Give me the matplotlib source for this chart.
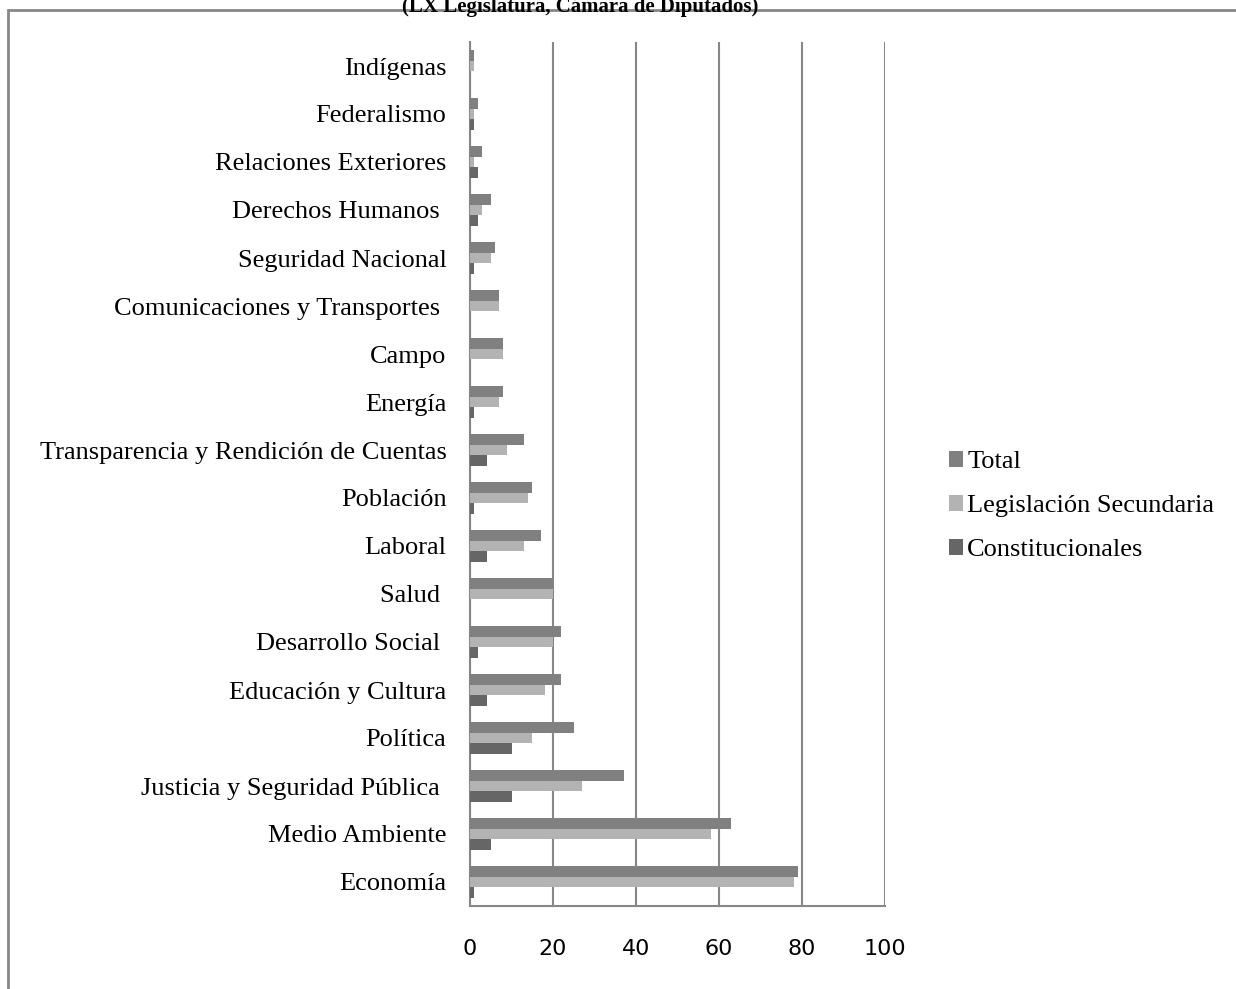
import matplotlib.pyplot as plt
from matplotlib.patches import Rectangle
import numpy as np

categories = ['Indígenas', 'Federalismo', 'Relaciones Exteriores', 'Derechos Humanos ',
              'Seguridad Nacional', 'Comunicaciones y Transportes ', 'Campo', 'Energía',
              'Transparencia y Rendición de Cuentas', 'Población', 'Laboral', 'Salud ',
              'Desarrollo Social ', 'Educación y Cultura', 'Política',
              'Justicia y Seguridad Pública ', 'Medio Ambiente', 'Economía']
total = [1, 2, 3, 5, 6, 7, 8, 8, 13, 15, 17, 20, 22, 22, 25, 37, 63, 79]
secundaria = [1, 1, 1, 3, 5, 7, 8, 7, 9, 14, 13, 20, 20, 18, 15, 27, 58, 78]
constitucionales = [0, 1, 2, 2, 1, 0, 0, 1, 4, 1, 4, 0, 2, 4, 10, 10, 5, 1]
xticks = [0, 20, 40, 60, 80, 100]

serif = ['Liberation Serif', 'DejaVu Serif']
grid_c = '#878787'

fig = plt.figure(figsize=(12.36, 9.89), dpi=100)
ax = fig.add_axes([470 / 1236, (989 - 906) / 989, 415 / 1236, 864 / 989])

n = len(categories)
y = np.arange(n)[::-1]
h = 0.22
ax.barh(y + h, total, height=h, color='#808080', label='Total', zorder=3)
ax.barh(y, secundaria, height=h, color='#b3b3b3', label='Legislación Secundaria', zorder=3)
ax.barh(y - h, constitucionales, height=h, color='#666666', label='Constitucionales', zorder=3)

ax.set_xlim(0, 100)
ax.set_ylim(-0.5, n - 0.5)
ax.set_xticks(xticks)
ax.set_xticklabels([str(t) for t in xticks], fontsize=16, family='DejaVu Sans')
ax.set_yticks(y)
ax.set_yticklabels(categories, fontsize=19, family=serif)
ax.tick_params(axis='both', length=0)
ax.tick_params(axis='x', pad=24)
ax.tick_params(axis='y', pad=17)
ax.xaxis.grid(True, color=grid_c, linewidth=1.5, zorder=0)
ax.set_axisbelow(True)
for s in ['top', 'right']:
    ax.spines[s].set_visible(False)
for s in ['left', 'bottom']:
    ax.spines[s].set_color(grid_c)
    ax.spines[s].set_linewidth(1.5)

leg = fig.legend(loc='center left', bbox_to_anchor=(925 / 1236, 1 - 506 / 989),
                 frameon=False, prop={'family': serif, 'size': 19},
                 handlelength=0.55, handleheight=0.55, handletextpad=0.15,
                 labelspacing=0.82)

# outer chart frame
fig.patches.append(Rectangle((8 / 1236, -0.05), 1.2, 1 - 10 / 989 + 0.05,
                             transform=fig.transFigure, fill=False,
                             edgecolor=grid_c, linewidth=2))

fig.text(580 / 1236, 1 - 12 / 989, '(LX Legislatura, Cámara de Diputados)',
         ha='center', va='baseline', fontsize=15, fontweight='bold', family=serif)

fig.savefig('out.png', dpi=100)
